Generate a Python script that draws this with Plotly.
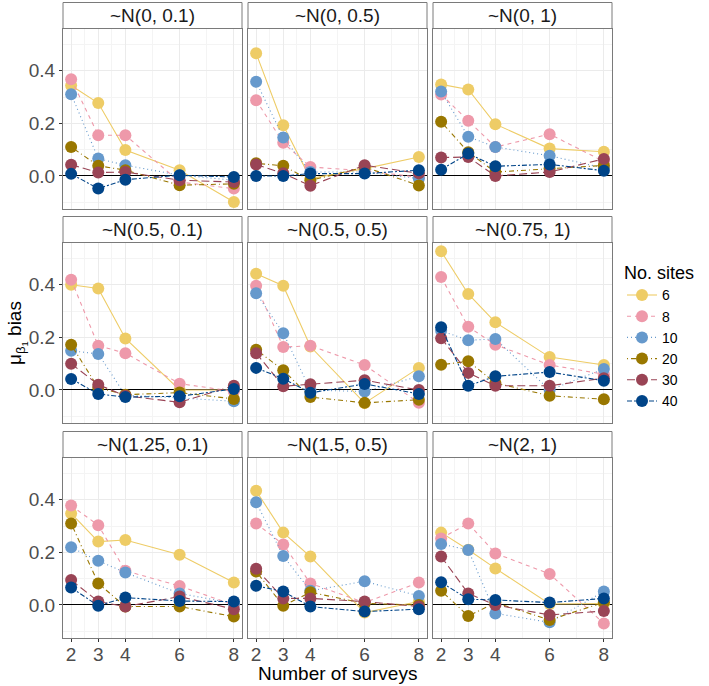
import plotly.graph_objects as go

surveys = [2, 3, 4, 6, 8]
sites = ["6", "8", "10", "20", "30", "40"]
panel_titles = ["~N(0, 0.1)", "~N(0, 0.5)", "~N(0, 1)",
                "~N(0.5, 0.1)", "~N(0.5, 0.5)", "~N(0.75, 1)",
                "~N(1.25, 0.1)", "~N(1.5, 0.5)", "~N(2, 1)"]
y_ticks = [0.0, 0.2, 0.4]
y_tick_labels = ["0.0", "0.2", "0.4"]

# bias per panel: rows = sites (6, 8, 10, 20, 30, 40), cols = surveys
bias_N0_01 = [[0.344, 0.277, 0.099, 0.022, -0.099],
              [0.368, 0.155, 0.155, -0.023, -0.048],
              [0.311, 0.066, 0.041, 0.003, -0.016],
              [0.110, 0.039, 0.022, -0.035, -0.030],
              [0.043, 0.013, 0.015, -0.016, -0.023],
              [0.008, -0.048, -0.014, 0.003, -0.004]]
bias_N0_05 = [[0.466, 0.193, -0.010, 0.028, 0.072],
              [0.288, 0.126, 0.034, 0.020, -0.005],
              [0.358, 0.146, 0.015, 0.015, -0.010],
              [0.048, 0.039, -0.017, 0.034, -0.036],
              [0.044, 0.010, -0.037, 0.041, 0.010],
              [0.000, 0.000, 0.009, 0.009, 0.022]]
bias_N0_1 = [[0.348, 0.329, 0.197, 0.104, 0.092],
             [0.310, 0.210, 0.110, 0.159, 0.055],
             [0.321, 0.149, 0.110, 0.077, 0.030],
             [0.206, 0.090, 0.015, 0.028, 0.040],
             [0.070, 0.072, 0.000, 0.015, 0.065],
             [0.024, 0.085, 0.037, 0.044, 0.020]]
bias_N05_01 = [[0.400, 0.386, 0.196, 0.000, 0.000],
               [0.419, 0.168, 0.140, 0.024, -0.005],
               [0.149, 0.137, -0.020, -0.030, -0.043],
               [0.172, 0.008, -0.018, -0.010, -0.034],
               [0.100, 0.020, -0.022, -0.047, 0.016],
               [0.042, -0.015, -0.027, -0.024, 0.004]]
bias_N05_05 = [[0.442, 0.396, 0.165, -0.050, 0.084],
               [0.396, 0.163, 0.168, 0.095, -0.049],
               [0.368, 0.216, 0.000, -0.006, 0.052],
               [0.153, 0.075, -0.027, -0.049, -0.037],
               [0.140, 0.014, 0.022, 0.037, 0.000],
               [0.084, 0.043, -0.011, 0.023, -0.015]]
bias_N075_1 = [[0.527, 0.365, 0.257, 0.125, 0.095],
               [0.429, 0.240, 0.172, 0.095, 0.060],
               [0.225, 0.189, 0.194, 0.000, 0.080],
               [0.096, 0.109, 0.027, -0.022, -0.035],
               [0.197, 0.065, 0.016, 0.016, 0.045],
               [0.238, 0.016, 0.052, 0.068, 0.035]]
bias_N125_01 = [[0.348, 0.241, 0.247, 0.191, 0.085],
                [0.378, 0.303, 0.130, 0.072, 0.000],
                [0.219, 0.168, 0.123, 0.044, 0.006],
                [0.310, 0.082, -0.006, -0.006, -0.044],
                [0.095, 0.013, -0.006, 0.032, -0.016],
                [0.066, -0.003, 0.028, 0.015, 0.013]]
bias_N15_05 = [[0.434, 0.275, 0.184, -0.029, 0.013],
               [0.310, 0.230, 0.082, 0.009, 0.085],
               [0.390, 0.186, 0.054, 0.090, 0.034],
               [0.127, -0.003, 0.048, 0.006, 0.000],
               [0.138, 0.025, 0.025, 0.013, -0.006],
               [0.073, 0.051, -0.006, -0.025, -0.016]]
bias_N2_1 = [[0.275, 0.210, 0.139, 0.004, 0.005],
             [0.253, 0.310, 0.196, 0.118, -0.070],
             [0.232, 0.209, -0.032, -0.066, 0.051],
             [0.054, -0.042, 0.009, -0.057, 0.010],
             [0.184, 0.044, 0.000, -0.038, -0.023],
             [0.086, 0.022, 0.019, 0.009, 0.025]]

panels = [bias_N0_01, bias_N0_05, bias_N0_1,
          bias_N05_01, bias_N05_05, bias_N075_1,
          bias_N125_01, bias_N15_05, bias_N2_1]

colors = ["#EECC66", "#EE99AA", "#6699CC", "#997700", "#994455", "#004488"]
dashes = ["solid", "4px,4px", "1px,3px", "1px,3px,5px,3px", "8px,4px", "5px,2px,2px,2px"]

W, H = 709, 686
FONT = "Liberation Sans, Arial, sans-serif"
col_x = [(63, 242), (248, 427), (433, 612)]
row_y = [(28.5, 209), (242.5, 423), (457.5, 638)]
strip_h = 26
border_col = "#7a7a7a"

fig = go.Figure()
layout = dict(width=W, height=H, margin=dict(l=0, r=0, t=0, b=0),
              plot_bgcolor="white", paper_bgcolor="white",
              font=dict(family=FONT, color="#4d4d4d"), shapes=[], annotations=[])

for i, data in enumerate(panels):
    r, c = divmod(i, 3)
    sfx = "" if i == 0 else str(i + 1)
    xa, ya = "x" + sfx, "y" + sfx
    for s, name in enumerate(sites):
        fig.add_trace(go.Scatter(
            x=surveys, y=data[s], xaxis=xa, yaxis=ya, name=name,
            legendgroup=name, showlegend=(i == 0), mode="lines+markers",
            line=dict(color=colors[s], width=1.1, dash=dashes[s]),
            marker=dict(color=colors[s], size=12),
        ))
    x0, x1 = col_x[c]
    t, b = row_y[r]
    layout["xaxis" + sfx] = dict(
        domain=[x0 / W, x1 / W], range=[1.7, 8.3], anchor=ya,
        tickvals=surveys, ticktext=[str(v) for v in surveys],
        showticklabels=(r == 2), ticks="outside" if r == 2 else "",
        ticklen=3, tickcolor="#333333", tickfont=dict(size=19, color="#4d4d4d"),
        ticklabelstandoff=-4,
        showgrid=True, gridcolor="#EBEBEB", gridwidth=1,
        minor=dict(tickvals=[2.5, 3.5, 5, 7], showgrid=True, gridcolor="#F4F4F4", gridwidth=0.6),
        showline=True, linecolor=border_col, linewidth=1, mirror=True, zeroline=False,
    )
    layout["yaxis" + sfx] = dict(
        domain=[1 - b / H, 1 - t / H], range=[-0.1255, 0.5605], anchor=xa,
        tickvals=y_ticks, ticktext=y_tick_labels,
        showticklabels=(c == 0), ticks="outside" if c == 0 else "",
        ticklen=3, tickcolor="#333333", tickfont=dict(size=19, color="#4d4d4d"),
        showgrid=True, gridcolor="#EBEBEB", gridwidth=1,
        minor=dict(tickvals=[-0.1, 0.1, 0.3, 0.5], showgrid=True, gridcolor="#F4F4F4", gridwidth=0.6),
        showline=True, linecolor=border_col, linewidth=1, mirror=True,
        zeroline=True, zerolinecolor="#000000", zerolinewidth=1.3,
    )
    layout["shapes"].append(dict(
        type="rect", xref="paper", yref="paper",
        x0=x0 / W, x1=x1 / W, y0=1 - t / H, y1=1 - (t - strip_h) / H,
        fillcolor="white", line=dict(color=border_col, width=1)))
    layout["annotations"].append(dict(
        text=panel_titles[i], xref="paper", yref="paper",
        x=(x0 + x1) / 2 / W, y=1 - (t - strip_h / 2) / H,
        xanchor="center", yanchor="middle", showarrow=False,
        font=dict(size=19, color="#1a1a1a", family=FONT)))

layout["annotations"].append(dict(
    text="Number of surveys", xref="paper", yref="paper",
    x=(63 + 612) / 2 / W, y=1 - 673 / H, xanchor="center", yanchor="middle",
    showarrow=False, font=dict(size=19, color="#000000", family=FONT)))
layout["annotations"].append(dict(
    text="μ<sub>β<sub>1</sub></sub> bias", xref="paper", yref="paper",
    x=17 / W, y=1 - 333 / H, xanchor="center", yanchor="middle", textangle=-90,
    showarrow=False, font=dict(size=19, color="#000000", family=FONT)))

layout["legend"] = dict(
    x=622 / W, y=1 - 256 / H, xanchor="left", yanchor="top",
    title=dict(text="No. sites", font=dict(size=18, color="#000000", family=FONT)),
    font=dict(size=14, color="#000000", family=FONT), bgcolor="rgba(0,0,0,0)",
    tracegroupgap=0, itemwidth=30)

fig.update_layout(**layout)
fig.write_html("out.html")
